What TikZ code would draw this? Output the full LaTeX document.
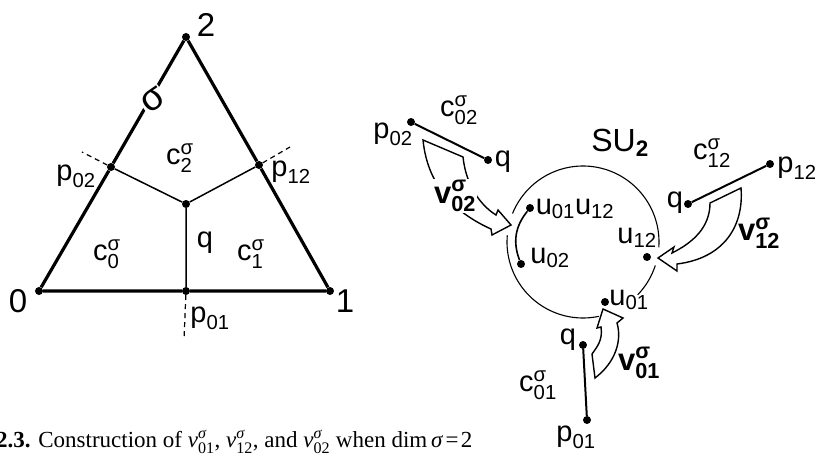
\documentclass[tikz,border=0pt]{standalone}
\usepackage{fix-cm}
\usepackage{amsmath}
\usepackage{fontspec}
\setmainfont{Liberation Sans}
\newfontfamily\capfont{Liberation Serif}
\newcommand\lbl[3]{$\text{#1}^{\text{#2}}_{\text{#3}}$}
\newcommand\sbl[2]{$\text{#1}_{\text{#2}}$}
\begin{document}
\begin{tikzpicture}[x=1pt,y=-1pt,
  dot/.style={circle,fill=black,inner sep=0pt,minimum size=8pt},
  thickedge/.style={line width=3.2pt},
  thinedge/.style={line width=1.5pt},
  seg/.style={line width=2pt},
  dashline/.style={line width=1.2pt,dash pattern=on 5pt off 4pt},
  lab/.style={inner sep=0pt,font=\fontsize{29}{31}\selectfont},
  big/.style={inner sep=0pt,font=\fontsize{33}{35}\selectfont},
  vlab/.style={inner sep=1pt,fill=white,font=\fontsize{31}{33}\selectfont\bfseries},
  fatarrow/.style={line width=1.4pt,fill=white,line join=miter},
  ring/.style={line width=1.1pt}]
\useasboundingbox (0,0) rectangle (816,457);
\clip (0,0) rectangle (816,457);

% ---------- triangle ----------
\node[dot] (v0) at (39,291) {};
\node[dot] (v1) at (330,291) {};
\node[dot] (v2) at (186,37) {};
\node[dot] (p02) at (111,167) {};
\node[dot] (p12) at (259,165) {};
\node[dot] (q) at (186,204) {};
\node[dot] (p01) at (186,291) {};
\coordinate (d02) at (82,152);
\coordinate (d12) at (290,147);
\coordinate (d01) at (184,340);

\draw[thickedge] (v0) -- (p01) -- (v1) -- (p12) -- (v2) -- (p02) -- (v0);
\draw[thinedge] (q) -- (p02) (q) -- (p12) (q) -- (p01);
\draw[dashline] (p02) -- (d02) (p12) -- (d12) (p01) -- (d01);

\node[fill=white,inner sep=1pt,rotate=35,font=\fontsize{37}{39}\selectfont] (sig) at (153,100) {σ};
\node[big] (n2) at (206,25) {2};
\node[big] (n0) at (18,301) {0};
\node[big] (n1) at (345,301) {1};
\node[lab] (lp02) at (76,176) {\sbl{p}{02}};
\node[lab] (lp12) at (291,172) {\sbl{p}{12}};
\node[lab] (lp01) at (210,318) {\sbl{p}{01}};
\node[lab] (lc2) at (180,158) {\lbl{c}{σ}{2}};
\node[lab] (lc0) at (107,254) {\lbl{c}{σ}{0}};
\node[lab] (lc1) at (251,254) {\lbl{c}{σ}{1}};
\node[lab] (lq) at (205,243) {q};

% ---------- SU2 circle ----------
\draw[ring] plot[domain=-4:158,samples=70] ({583+76*cos(\x)},{242-76*sin(\x)});
\draw[ring] plot[domain=175:282,samples=50] ({583+76*cos(\x)},{242-76*sin(\x)});
\draw[ring] plot[domain=-44:-18,samples=20] ({583+76*cos(\x)},{242-76*sin(\x)});
\node[lab,font=\fontsize{32}{34}\selectfont] (su) at (620,143) {SU\textsubscript{\bfseries 2}};

\node[dot] (ua) at (530,208) {};
\node[dot] (ub) at (521,264) {};
\node[dot] (uc) at (647,257) {};
\node[dot] (ud) at (605,302) {};
\draw[line width=1.6pt] (ua) to[bend right=30] (ub);
\node[lab] (lua) at (575,209) {\sbl{u}{01}\sbl{u}{12}};
\node[lab] (lub) at (550,258) {\sbl{u}{02}};
\node[lab] (luc) at (637,238) {\sbl{u}{12}};
\node[lab] (lud) at (629,300) {\sbl{u}{01}};

% ---------- c02 ----------
\node[dot] (rp02) at (411,122) {};
\node[dot] (rq02) at (488,160) {};
\draw[seg] (rp02) -- (rq02);
\node[lab] (lrp02) at (393,134) {\sbl{p}{02}};
\node[lab] (lrq02) at (503,162) {q};
\node[lab] (lc02) at (459,110) {\lbl{c}{σ}{02}};
\draw[fatarrow] (423,140) -- (463,157) .. controls (466,185) and (480,205) .. (496,215)
  -- (498,210) -- (511,225) -- (492,235) -- (491,229)
  .. controls (460,215) and (428,190) .. (423,140) -- cycle;
\node[vlab] (v02) at (455,196) {\lbl{v}{σ}{02}};

% ---------- c12 ----------
\node[dot] (rq12) at (688,204) {};
\node[dot] (rp12) at (770,164) {};
\draw[seg] (rq12) -- (rp12);
\node[lab] (lrq12) at (675,203) {q};
\node[lab] (lrp12) at (797,168) {\sbl{p}{12}};
\node[lab] (lc12) at (712,153) {\lbl{c}{σ}{12}};
\draw[fatarrow] (710,203) -- (741,188) .. controls (744,225) and (725,258) .. (677,264)
  -- (677,271) -- (658,258) -- (674,247) -- (672,253)
  .. controls (692,243) and (710,228) .. (710,203) -- cycle;
\node[vlab,fill=none] (v12) at (759,233) {\lbl{v}{σ}{12}};

% ---------- c01 ----------
\node[dot] (rq01) at (583,345) {};
\node[dot] (rp01) at (587,420) {};
\draw[seg] (rq01) -- (rp01);
\node[lab] (lrq01) at (568,340) {q};
\node[lab] (lrp01) at (576,437) {\sbl{p}{01}};
\node[lab] (lc01) at (538,385) {\lbl{c}{σ}{01}};
\draw[fatarrow] (592,354) -- (595,378) .. controls (616,362) and (622,340) .. (617,323)
  -- (623,318) -- (603,309) -- (597,328) -- (601,327)
  .. controls (603,340) and (597,347) .. (592,354) -- cycle;
\node[vlab,fill=none] (v01) at (639,363) {\lbl{v}{σ}{01}};

% ---------- caption ----------
\node[anchor=base west,inner sep=0pt,font=\capfont\fontsize{23}{25}\selectfont] (cap) at (-4,447)
  {\textbf{2.3.} Construction of $\text{\itshape v}^{\text{\itshape σ}}_{\text{01}}$, $\text{\itshape v}^{\text{\itshape σ}}_{\text{12}}$, and $\text{\itshape v}^{\text{\itshape σ}}_{\text{02}}$ when dim\,\textit{σ}\hspace{0.1em}=\hspace{0.1em}2};
\end{tikzpicture}
\end{document}
